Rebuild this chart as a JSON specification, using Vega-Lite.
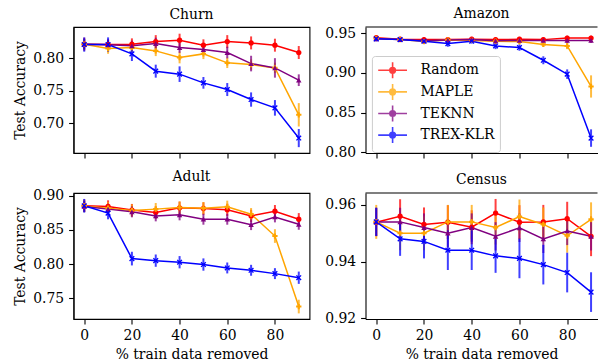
{
"$schema": "https://vega.github.io/schema/vega-lite/v6.json",
"padding": {"left": 12.5, "top": 7, "right": 0, "bottom": 0},
"background": "white",
"datasets": {"d": [
{"ds":"Churn","m":"Random","x":0,"y":0.8215,"e":0.010},{"ds":"Churn","m":"Random","x":10,"y":0.821,"e":0.008},{"ds":"Churn","m":"Random","x":20,"y":0.8215,"e":0.009},{"ds":"Churn","m":"Random","x":30,"y":0.8255,"e":0.010},{"ds":"Churn","m":"Random","x":40,"y":0.8277,"e":0.010},{"ds":"Churn","m":"Random","x":50,"y":0.820,"e":0.009},{"ds":"Churn","m":"Random","x":60,"y":0.8255,"e":0.010},{"ds":"Churn","m":"Random","x":70,"y":0.8235,"e":0.010},{"ds":"Churn","m":"Random","x":80,"y":0.820,"e":0.010},{"ds":"Churn","m":"Random","x":90,"y":0.8087,"e":0.010},
{"ds":"Churn","m":"MAPLE","x":0,"y":0.8215,"e":0.008},{"ds":"Churn","m":"MAPLE","x":10,"y":0.8148,"e":0.008},{"ds":"Churn","m":"MAPLE","x":20,"y":0.8163,"e":0.007},{"ds":"Churn","m":"MAPLE","x":30,"y":0.8112,"e":0.008},{"ds":"Churn","m":"MAPLE","x":40,"y":0.801,"e":0.009},{"ds":"Churn","m":"MAPLE","x":50,"y":0.8066,"e":0.008},{"ds":"Churn","m":"MAPLE","x":60,"y":0.7928,"e":0.008},{"ds":"Churn","m":"MAPLE","x":70,"y":0.7902,"e":0.008},{"ds":"Churn","m":"MAPLE","x":80,"y":0.785,"e":0.008},{"ds":"Churn","m":"MAPLE","x":90,"y":0.7128,"e":0.018},
{"ds":"Churn","m":"TEKNN","x":0,"y":0.8215,"e":0.008},{"ds":"Churn","m":"TEKNN","x":10,"y":0.8205,"e":0.008},{"ds":"Churn","m":"TEKNN","x":20,"y":0.819,"e":0.008},{"ds":"Churn","m":"TEKNN","x":30,"y":0.8225,"e":0.009},{"ds":"Churn","m":"TEKNN","x":40,"y":0.8163,"e":0.008},{"ds":"Churn","m":"TEKNN","x":50,"y":0.8132,"e":0.008},{"ds":"Churn","m":"TEKNN","x":60,"y":0.8087,"e":0.009},{"ds":"Churn","m":"TEKNN","x":70,"y":0.7917,"e":0.012},{"ds":"Churn","m":"TEKNN","x":80,"y":0.785,"e":0.015},{"ds":"Churn","m":"TEKNN","x":90,"y":0.7661,"e":0.009},
{"ds":"Churn","m":"TREX-KLR","x":0,"y":0.821,"e":0.011},{"ds":"Churn","m":"TREX-KLR","x":10,"y":0.821,"e":0.011},{"ds":"Churn","m":"TREX-KLR","x":20,"y":0.8066,"e":0.011},{"ds":"Churn","m":"TREX-KLR","x":30,"y":0.780,"e":0.010},{"ds":"Churn","m":"TREX-KLR","x":40,"y":0.7754,"e":0.012},{"ds":"Churn","m":"TREX-KLR","x":50,"y":0.762,"e":0.009},{"ds":"Churn","m":"TREX-KLR","x":60,"y":0.7517,"e":0.010},{"ds":"Churn","m":"TREX-KLR","x":70,"y":0.7363,"e":0.011},{"ds":"Churn","m":"TREX-KLR","x":80,"y":0.7235,"e":0.012},{"ds":"Churn","m":"TREX-KLR","x":90,"y":0.677,"e":0.014},
{"ds":"Amazon","m":"Random","x":0,"y":0.9445,"e":0.003},{"ds":"Amazon","m":"Random","x":10,"y":0.9425,"e":0.003},{"ds":"Amazon","m":"Random","x":20,"y":0.942,"e":0.003},{"ds":"Amazon","m":"Random","x":30,"y":0.942,"e":0.003},{"ds":"Amazon","m":"Random","x":40,"y":0.9425,"e":0.003},{"ds":"Amazon","m":"Random","x":50,"y":0.942,"e":0.003},{"ds":"Amazon","m":"Random","x":60,"y":0.9425,"e":0.003},{"ds":"Amazon","m":"Random","x":70,"y":0.942,"e":0.003},{"ds":"Amazon","m":"Random","x":80,"y":0.944,"e":0.003},{"ds":"Amazon","m":"Random","x":90,"y":0.944,"e":0.003},
{"ds":"Amazon","m":"MAPLE","x":0,"y":0.9435,"e":0.003},{"ds":"Amazon","m":"MAPLE","x":10,"y":0.942,"e":0.003},{"ds":"Amazon","m":"MAPLE","x":20,"y":0.9395,"e":0.003},{"ds":"Amazon","m":"MAPLE","x":30,"y":0.9415,"e":0.003},{"ds":"Amazon","m":"MAPLE","x":40,"y":0.941,"e":0.003},{"ds":"Amazon","m":"MAPLE","x":50,"y":0.940,"e":0.003},{"ds":"Amazon","m":"MAPLE","x":60,"y":0.9395,"e":0.003},{"ds":"Amazon","m":"MAPLE","x":70,"y":0.936,"e":0.003},{"ds":"Amazon","m":"MAPLE","x":80,"y":0.934,"e":0.004},{"ds":"Amazon","m":"MAPLE","x":90,"y":0.883,"e":0.014},
{"ds":"Amazon","m":"TEKNN","x":0,"y":0.943,"e":0.003},{"ds":"Amazon","m":"TEKNN","x":10,"y":0.942,"e":0.003},{"ds":"Amazon","m":"TEKNN","x":20,"y":0.9405,"e":0.003},{"ds":"Amazon","m":"TEKNN","x":30,"y":0.9415,"e":0.003},{"ds":"Amazon","m":"TEKNN","x":40,"y":0.942,"e":0.003},{"ds":"Amazon","m":"TEKNN","x":50,"y":0.9405,"e":0.003},{"ds":"Amazon","m":"TEKNN","x":60,"y":0.941,"e":0.003},{"ds":"Amazon","m":"TEKNN","x":70,"y":0.941,"e":0.003},{"ds":"Amazon","m":"TEKNN","x":80,"y":0.941,"e":0.003},{"ds":"Amazon","m":"TEKNN","x":90,"y":0.941,"e":0.003},
{"ds":"Amazon","m":"TREX-KLR","x":0,"y":0.943,"e":0.003},{"ds":"Amazon","m":"TREX-KLR","x":10,"y":0.942,"e":0.003},{"ds":"Amazon","m":"TREX-KLR","x":20,"y":0.940,"e":0.003},{"ds":"Amazon","m":"TREX-KLR","x":30,"y":0.937,"e":0.004},{"ds":"Amazon","m":"TREX-KLR","x":40,"y":0.940,"e":0.003},{"ds":"Amazon","m":"TREX-KLR","x":50,"y":0.934,"e":0.004},{"ds":"Amazon","m":"TREX-KLR","x":60,"y":0.932,"e":0.004},{"ds":"Amazon","m":"TREX-KLR","x":70,"y":0.916,"e":0.005},{"ds":"Amazon","m":"TREX-KLR","x":80,"y":0.8985,"e":0.006},{"ds":"Amazon","m":"TREX-KLR","x":90,"y":0.818,"e":0.011},
{"ds":"Adult","m":"Random","x":0,"y":0.8853,"e":0.009},{"ds":"Adult","m":"Random","x":10,"y":0.8843,"e":0.009},{"ds":"Adult","m":"Random","x":20,"y":0.879,"e":0.009},{"ds":"Adult","m":"Random","x":30,"y":0.8754,"e":0.009},{"ds":"Adult","m":"Random","x":40,"y":0.8823,"e":0.009},{"ds":"Adult","m":"Random","x":50,"y":0.8813,"e":0.009},{"ds":"Adult","m":"Random","x":60,"y":0.8794,"e":0.009},{"ds":"Adult","m":"Random","x":70,"y":0.8705,"e":0.009},{"ds":"Adult","m":"Random","x":80,"y":0.8774,"e":0.009},{"ds":"Adult","m":"Random","x":90,"y":0.8656,"e":0.009},
{"ds":"Adult","m":"MAPLE","x":0,"y":0.885,"e":0.009},{"ds":"Adult","m":"MAPLE","x":10,"y":0.8818,"e":0.009},{"ds":"Adult","m":"MAPLE","x":20,"y":0.8784,"e":0.009},{"ds":"Adult","m":"MAPLE","x":30,"y":0.8804,"e":0.009},{"ds":"Adult","m":"MAPLE","x":40,"y":0.8828,"e":0.009},{"ds":"Adult","m":"MAPLE","x":50,"y":0.8818,"e":0.009},{"ds":"Adult","m":"MAPLE","x":60,"y":0.8838,"e":0.009},{"ds":"Adult","m":"MAPLE","x":70,"y":0.873,"e":0.009},{"ds":"Adult","m":"MAPLE","x":80,"y":0.841,"e":0.010},{"ds":"Adult","m":"MAPLE","x":90,"y":0.7378,"e":0.010},
{"ds":"Adult","m":"TEKNN","x":0,"y":0.8843,"e":0.008},{"ds":"Adult","m":"TEKNN","x":10,"y":0.8804,"e":0.008},{"ds":"Adult","m":"TEKNN","x":20,"y":0.8764,"e":0.008},{"ds":"Adult","m":"TEKNN","x":30,"y":0.8705,"e":0.008},{"ds":"Adult","m":"TEKNN","x":40,"y":0.872,"e":0.008},{"ds":"Adult","m":"TEKNN","x":50,"y":0.8656,"e":0.008},{"ds":"Adult","m":"TEKNN","x":60,"y":0.8656,"e":0.008},{"ds":"Adult","m":"TEKNN","x":70,"y":0.8577,"e":0.008},{"ds":"Adult","m":"TEKNN","x":80,"y":0.869,"e":0.008},{"ds":"Adult","m":"TEKNN","x":90,"y":0.8582,"e":0.008},
{"ds":"Adult","m":"TREX-KLR","x":0,"y":0.8853,"e":0.010},{"ds":"Adult","m":"TREX-KLR","x":10,"y":0.8745,"e":0.009},{"ds":"Adult","m":"TREX-KLR","x":20,"y":0.808,"e":0.010},{"ds":"Adult","m":"TREX-KLR","x":30,"y":0.805,"e":0.009},{"ds":"Adult","m":"TREX-KLR","x":40,"y":0.8027,"e":0.009},{"ds":"Adult","m":"TREX-KLR","x":50,"y":0.7993,"e":0.009},{"ds":"Adult","m":"TREX-KLR","x":60,"y":0.7943,"e":0.008},{"ds":"Adult","m":"TREX-KLR","x":70,"y":0.7909,"e":0.008},{"ds":"Adult","m":"TREX-KLR","x":80,"y":0.786,"e":0.008},{"ds":"Adult","m":"TREX-KLR","x":90,"y":0.780,"e":0.009},
{"ds":"Census","m":"Random","x":0,"y":0.9539,"e":0.005},{"ds":"Census","m":"Random","x":10,"y":0.956,"e":0.006},{"ds":"Census","m":"Random","x":20,"y":0.9531,"e":0.006},{"ds":"Census","m":"Random","x":30,"y":0.9539,"e":0.006},{"ds":"Census","m":"Random","x":40,"y":0.9521,"e":0.006},{"ds":"Census","m":"Random","x":50,"y":0.9571,"e":0.005},{"ds":"Census","m":"Random","x":60,"y":0.9539,"e":0.006},{"ds":"Census","m":"Random","x":70,"y":0.954,"e":0.006},{"ds":"Census","m":"Random","x":80,"y":0.9551,"e":0.006},{"ds":"Census","m":"Random","x":90,"y":0.9489,"e":0.007},
{"ds":"Census","m":"MAPLE","x":0,"y":0.954,"e":0.006},{"ds":"Census","m":"MAPLE","x":10,"y":0.950,"e":0.006},{"ds":"Census","m":"MAPLE","x":20,"y":0.950,"e":0.006},{"ds":"Census","m":"MAPLE","x":30,"y":0.954,"e":0.006},{"ds":"Census","m":"MAPLE","x":40,"y":0.954,"e":0.006},{"ds":"Census","m":"MAPLE","x":50,"y":0.952,"e":0.006},{"ds":"Census","m":"MAPLE","x":60,"y":0.9559,"e":0.006},{"ds":"Census","m":"MAPLE","x":70,"y":0.9531,"e":0.006},{"ds":"Census","m":"MAPLE","x":80,"y":0.9491,"e":0.006},{"ds":"Census","m":"MAPLE","x":90,"y":0.9549,"e":0.006},
{"ds":"Census","m":"TEKNN","x":0,"y":0.954,"e":0.005},{"ds":"Census","m":"TEKNN","x":10,"y":0.954,"e":0.005},{"ds":"Census","m":"TEKNN","x":20,"y":0.952,"e":0.005},{"ds":"Census","m":"TEKNN","x":30,"y":0.950,"e":0.005},{"ds":"Census","m":"TEKNN","x":40,"y":0.952,"e":0.005},{"ds":"Census","m":"TEKNN","x":50,"y":0.9489,"e":0.005},{"ds":"Census","m":"TEKNN","x":60,"y":0.9519,"e":0.005},{"ds":"Census","m":"TEKNN","x":70,"y":0.948,"e":0.005},{"ds":"Census","m":"TEKNN","x":80,"y":0.9508,"e":0.005},{"ds":"Census","m":"TEKNN","x":90,"y":0.9489,"e":0.005},
{"ds":"Census","m":"TREX-KLR","x":0,"y":0.954,"e":0.005},{"ds":"Census","m":"TREX-KLR","x":10,"y":0.948,"e":0.006},{"ds":"Census","m":"TREX-KLR","x":20,"y":0.9471,"e":0.006},{"ds":"Census","m":"TREX-KLR","x":30,"y":0.944,"e":0.007},{"ds":"Census","m":"TREX-KLR","x":40,"y":0.944,"e":0.007},{"ds":"Census","m":"TREX-KLR","x":50,"y":0.942,"e":0.006},{"ds":"Census","m":"TREX-KLR","x":60,"y":0.9411,"e":0.007},{"ds":"Census","m":"TREX-KLR","x":70,"y":0.9389,"e":0.007},{"ds":"Census","m":"TREX-KLR","x":80,"y":0.9361,"e":0.007},{"ds":"Census","m":"TREX-KLR","x":90,"y":0.9292,"e":0.007}
]},
"data": {"name": "d"},
"columns": 2,
"spacing": {"row": 40, "column": 56},
"bounds": "flush",
"concat": [
{
 "width": 236, "height": 126, "title": "Churn",
 "transform": [{"filter": "datum.ds === 'Churn'"}],
 "encoding": {
  "x": {"field": "x", "type": "quantitative", "scale": {"domain": [-4.5, 94.5], "nice": false, "zero": false}, "axis": {"values": [0,20,40,60,80], "labels": false, "title": null}},
  "y": {"field": "y", "type": "quantitative", "scale": {"domain": [0.654, 0.848], "nice": false, "zero": false}, "axis": {"values": [0.70,0.75,0.80], "format": ".2f", "title": "Test Accuracy", "minExtent": 46, "maxExtent": 46, "titlePadding": 0}},
  "color": {"field": "m", "type": "nominal", "scale": {"domain": ["Random","MAPLE","TEKNN","TREX-KLR"], "range": ["red","orange","purple","blue"]}}
 },
 "layer": [
  {"mark": {"type": "errorbar", "thickness": 2, "opacity": 0.75}, "encoding": {"yError": {"field": "e"}}},
  {"mark": {"type": "line", "strokeWidth": 1.5}},
  {"transform": [{"filter": "datum.m === 'Random'"}], "mark": {"type": "point", "filled": true, "shape": "circle", "size": 28, "opacity": 1}},
  {"transform": [{"filter": "datum.m === 'MAPLE'"}], "mark": {"type": "point", "filled": true, "shape": "cross", "size": 28, "opacity": 1}},
  {"transform": [{"filter": "datum.m === 'TEKNN'"}], "mark": {"type": "point", "filled": true, "shape": "triangle-up", "size": 30, "opacity": 1}},
  {"transform": [{"filter": "datum.m === 'TREX-KLR'"}], "mark": {"type": "point", "filled": true, "shape": "M-1,-1L1,1M-1,1L1,-1", "stroke": "blue", "strokeWidth": 1.3, "size": 22, "opacity": 1}}
 ]
},
{
 "width": 232, "height": 126, "title": "Amazon",
 "view": {"stroke": null},
 "layer": [
  {
   "transform": [{"filter": "datum.ds === 'Amazon'"}],
   "encoding": {
    "x": {"field": "x", "type": "quantitative", "scale": {"domain": [-4.5, 92.7], "nice": false, "zero": false}, "axis": {"values": [0,20,40,60,80], "labels": false, "title": null}},
    "y": {"field": "y", "type": "quantitative", "scale": {"domain": [0.7992, 0.9579], "nice": false, "zero": false}, "axis": {"values": [0.80,0.85,0.90,0.95], "format": ".2f", "title": null}},
    "color": {"field": "m", "type": "nominal", "scale": {"domain": ["Random","MAPLE","TEKNN","TREX-KLR"], "range": ["red","orange","purple","blue"]},
       "legend": {"title": null, "orient": "none", "legendX": 298.4, "legendY": 29,
        "symbolType": "M-1,0H2.6M0.8,-1V1M1.15,0A0.35,0.35,0,1,1,0.45,0A0.35,0.35,0,1,1,1.15,0Z",
        "symbolSize": 256, "symbolStrokeWidth": 1.6, "symbolOpacity": 1, "labelFontSize": 13.9, "labelFont": "DejaVu Serif", "labelColor": "black",
        "labelOffset": 25.3, "padding": 5.3, "rowPadding": -2.4, "strokeColor": "#cccccc", "fillColor": "rgba(255,255,255,0.8)", "cornerRadius": 3}}
   },
   "layer": [
    {"mark": {"type": "errorbar", "thickness": 2, "opacity": 0.75}, "encoding": {"yError": {"field": "e"}}},
    {"mark": {"type": "line", "strokeWidth": 1.5}},
    {"transform": [{"filter": "datum.m === 'Random'"}], "mark": {"type": "point", "filled": true, "shape": "circle", "size": 28, "opacity": 1}},
    {"transform": [{"filter": "datum.m === 'MAPLE'"}], "mark": {"type": "point", "filled": true, "shape": "cross", "size": 28, "opacity": 1}},
    {"transform": [{"filter": "datum.m === 'TEKNN'"}], "mark": {"type": "point", "filled": true, "shape": "triangle-up", "size": 30, "opacity": 1}},
    {"transform": [{"filter": "datum.m === 'TREX-KLR'"}], "mark": {"type": "point", "filled": true, "shape": "M-1,-1L1,1M-1,1L1,-1", "stroke": "blue", "strokeWidth": 1.3, "size": 22, "opacity": 1}}
   ]
  },
  {"data": {"values": [{}]}, "mark": {"type": "rule", "color": "black", "strokeWidth": 1.1}, "encoding": {"y": {"datum": 0.9579}}}
 ]
},
{
 "width": 236, "height": 126, "title": "Adult",
 "transform": [{"filter": "datum.ds === 'Adult'"}],
 "encoding": {
  "x": {"field": "x", "type": "quantitative", "scale": {"domain": [-4.5, 94.5], "nice": false, "zero": false}, "axis": {"values": [0,20,40,60,80], "title": "% train data removed", "minExtent": 28, "maxExtent": 28, "titlePadding": 0}},
  "y": {"field": "y", "type": "quantitative", "scale": {"domain": [0.7196, 0.904], "nice": false, "zero": false}, "axis": {"values": [0.75,0.80,0.85,0.90], "format": ".2f", "title": "Test Accuracy", "minExtent": 46, "maxExtent": 46, "titlePadding": 0}},
  "color": {"field": "m", "type": "nominal", "scale": {"domain": ["Random","MAPLE","TEKNN","TREX-KLR"], "range": ["red","orange","purple","blue"]}}
 },
 "layer": [
  {"mark": {"type": "errorbar", "thickness": 2, "opacity": 0.75}, "encoding": {"yError": {"field": "e"}}},
  {"mark": {"type": "line", "strokeWidth": 1.5}},
  {"transform": [{"filter": "datum.m === 'Random'"}], "mark": {"type": "point", "filled": true, "shape": "circle", "size": 28, "opacity": 1}},
  {"transform": [{"filter": "datum.m === 'MAPLE'"}], "mark": {"type": "point", "filled": true, "shape": "cross", "size": 28, "opacity": 1}},
  {"transform": [{"filter": "datum.m === 'TEKNN'"}], "mark": {"type": "point", "filled": true, "shape": "triangle-up", "size": 30, "opacity": 1}},
  {"transform": [{"filter": "datum.m === 'TREX-KLR'"}], "mark": {"type": "point", "filled": true, "shape": "M-1,-1L1,1M-1,1L1,-1", "stroke": "blue", "strokeWidth": 1.3, "size": 22, "opacity": 1}}
 ]
},
{
 "width": 232, "height": 126, "title": "Census",
 "view": {"stroke": null},
 "layer": [
  {
   "transform": [{"filter": "datum.ds === 'Census'"}],
   "encoding": {
    "x": {"field": "x", "type": "quantitative", "scale": {"domain": [-4.5, 92.7], "nice": false, "zero": false}, "axis": {"values": [0,20,40,60,80], "title": "% train data removed", "minExtent": 28, "maxExtent": 28, "titlePadding": 0}},
    "y": {"field": "y", "type": "quantitative", "scale": {"domain": [0.9197, 0.9642], "nice": false, "zero": false}, "axis": {"values": [0.92,0.94,0.96], "format": ".2f", "title": null}},
    "color": {"field": "m", "type": "nominal", "scale": {"domain": ["Random","MAPLE","TEKNN","TREX-KLR"], "range": ["red","orange","purple","blue"]}}
   },
   "layer": [
    {"mark": {"type": "errorbar", "thickness": 2, "opacity": 0.75}, "encoding": {"yError": {"field": "e"}}},
    {"mark": {"type": "line", "strokeWidth": 1.5}},
    {"transform": [{"filter": "datum.m === 'Random'"}], "mark": {"type": "point", "filled": true, "shape": "circle", "size": 28, "opacity": 1}},
    {"transform": [{"filter": "datum.m === 'MAPLE'"}], "mark": {"type": "point", "filled": true, "shape": "cross", "size": 28, "opacity": 1}},
    {"transform": [{"filter": "datum.m === 'TEKNN'"}], "mark": {"type": "point", "filled": true, "shape": "triangle-up", "size": 30, "opacity": 1}},
    {"transform": [{"filter": "datum.m === 'TREX-KLR'"}], "mark": {"type": "point", "filled": true, "shape": "M-1,-1L1,1M-1,1L1,-1", "stroke": "blue", "strokeWidth": 1.3, "size": 22, "opacity": 1}}
   ]
  },
  {"data": {"values": [{}]}, "mark": {"type": "rule", "color": "black", "strokeWidth": 1.1}, "encoding": {"y": {"datum": 0.9642}}}
 ]
}
],
"config": {
 "font": "DejaVu Serif",
 "view": {"stroke": "black", "strokeWidth": 1.1},
 "axis": {"labelFont": "DejaVu Serif", "labelFontSize": 13.9, "titleFont": "DejaVu Serif", "titleFontSize": 13.9, "titleFontWeight": "normal",
  "labelColor": "black", "titleColor": "black", "tickColor": "black", "tickSize": 4.9, "tickWidth": 1.1, "labelPadding": 4.9,
  "domainColor": "black", "domainWidth": 1.1, "grid": false, "titlePadding": 5, "labelFlush": false, "labelOverlap": false},
 "title": {"font": "DejaVu Serif", "fontSize": 13.9, "fontWeight": "normal", "color": "black", "baseline": "bottom", "offset": 5.3, "anchor": "middle", "frame": "group"}
}
}
